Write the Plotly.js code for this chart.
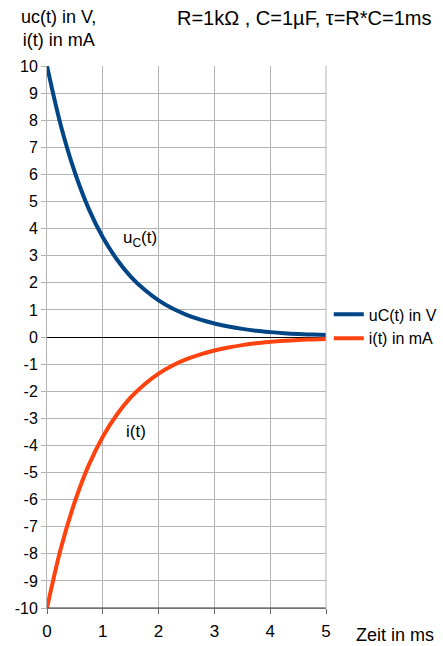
<!DOCTYPE html>
<html><head><meta charset="utf-8">
<script src="https://cdn.plot.ly/plotly-3.0.1.min.js"></script>
<style>html,body{margin:0;padding:0;background:#fff}#chart{width:443px;height:646px}</style>
</head><body><div id="chart"></div>
<script>
const t = [0,0.25,0.5,0.75,1,1.25,1.5,1.75,2,2.25,2.5,2.75,3,3.25,3.5,3.75,4,4.25,4.5,4.75,5];
const uC = [10,7.79,6.07,4.72,3.68,2.87,2.23,1.74,1.35,1.05,0.82,0.64,0.50,0.39,0.30,0.23,0.18,0.14,0.11,0.09,0.07];
const iT = [-10,-7.79,-6.07,-4.72,-3.68,-2.87,-2.23,-1.74,-1.35,-1.05,-0.82,-0.64,-0.50,-0.39,-0.30,-0.23,-0.18,-0.14,-0.11,-0.09,-0.07];
const seriesNames = ['uC(t) in V','i(t) in mA'];
const xTicks = [0,1,2,3,4,5];
const yTicks = [10,9,8,7,6,5,4,3,2,1,0,-1,-2,-3,-4,-5,-6,-7,-8,-9,-10];

const F = 'Liberation Sans, Arial, sans-serif';
const traces = [
  {x:t, y:uC, name:seriesNames[0], mode:'lines', line:{color:'#004586', width:4, shape:'spline'}},
  {x:t, y:iT, name:seriesNames[1], mode:'lines', line:{color:'#ff420e', width:4, shape:'spline'}}
];
const layout = {
  width:443, height:646,
  margin:{l:47, r:117, t:66, b:38, autoexpand:false},
  paper_bgcolor:'#fff', plot_bgcolor:'#fff',
  font:{family:F, size:16, color:'#000'},
  showlegend:true,
  legend:{x:1.01, y:0.573, xanchor:'left', yanchor:'top', font:{family:F, size:16}, tracegroupgap:0, itemwidth:30, bgcolor:'rgba(0,0,0,0)'},
  xaxis:{range:[0,5], tickvals:xTicks, ticktext:xTicks.map(String), showgrid:true, gridcolor:'#b3b3b3', gridwidth:1,
         zeroline:false, showline:true, linecolor:'#b3b3b3', mirror:false, ticks:'outside', ticklen:5, tickcolor:'#666',
         ticklabelstandoff:3, tickfont:{family:F, size:17}, fixedrange:true},
  yaxis:{range:[-10,10], tickvals:yTicks, ticktext:yTicks.map(String), showgrid:true, gridcolor:'#b3b3b3', gridwidth:1,
         zeroline:true, zerolinecolor:'#000', zerolinewidth:1, showline:true, linecolor:'#b3b3b3', ticks:'outside', ticklen:5, tickcolor:'#b3b3b3',
         tickfont:{family:F, size:16}, fixedrange:true},
  shapes:[
    {type:'line', xref:'paper', yref:'paper', x0:0, x1:1, y0:0, y1:0, line:{color:'#333', width:1}},
    {type:'line', xref:'paper', yref:'paper', x0:1, x1:1, y0:0, y1:1, line:{color:'#b3b3b3', width:1}}
  ],
  annotations:[
    {text:'uc(t) in V,<br>i(t) in mA', xref:'paper', yref:'paper', x:0.04, y:1.07, xanchor:'center', yanchor:'middle', showarrow:false, align:'center', font:{family:F, size:18}},
    {text:'R=1kΩ , C=1µF, τ=R*C=1ms', xref:'paper', yref:'paper', x:1.385, y:1.088, xanchor:'right', yanchor:'middle', showarrow:false, font:{family:F, size:20}},
    {text:'Zeit in ms', xref:'paper', yref:'paper', x:1.1, y:-0.05, xanchor:'left', yanchor:'middle', showarrow:false, font:{family:F, size:18}},
    {text:'u<sub>C</sub>(t)', x:1.67, y:3.6, xref:'x', yref:'y', xanchor:'center', yanchor:'middle', showarrow:false, font:{family:F, size:17}},
    {text:'i(t)', x:1.6, y:-3.5, xref:'x', yref:'y', xanchor:'center', yanchor:'middle', showarrow:false, font:{family:F, size:17}}
  ]
};
Plotly.newPlot('chart', traces, layout, {staticPlot:true, displayModeBar:false});
</script></body></html>
